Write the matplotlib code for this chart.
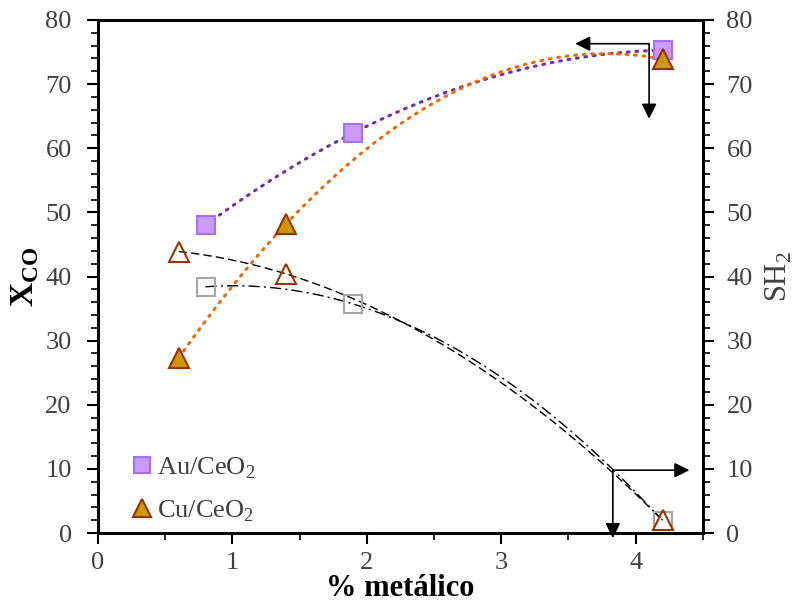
import numpy as np
import matplotlib.pyplot as plt
from matplotlib.ticker import MultipleLocator

plt.rcParams['font.family'] = ['Liberation Serif', 'DejaVu Serif']
plt.rcParams['mathtext.fontset'] = 'custom'
plt.rcParams['mathtext.rm'] = 'Liberation Serif'
plt.rcParams['mathtext.bf'] = 'Liberation Serif:bold'

# conversion X_CO (left axis)
au_x = [0.8, 1.9, 4.2]
au_xco = [48.0, 62.4, 75.3]
cu_x = [0.6, 1.4, 4.2]
cu_xco = [27.3, 48.2, 73.9]

# selectivity S_H2 (right axis)
au_sh2 = [38.4, 35.7, 1.9]
cu_sh2 = [43.9, 40.4, 2.0]

gray = '#404040'

fig = plt.figure(figsize=(7.99, 6.04), dpi=100)
ax = fig.add_axes([0.1227, 0.1175, 0.757, 0.8494])
ax2 = ax.twinx()

# quadratic trend lines
def trend(x, y):
    c = np.polyfit(x, y, 2)
    xs = np.linspace(min(x), max(x), 200)
    return xs, np.polyval(c, xs)

xs, ys = trend(au_x, au_xco)
ax.plot(xs, ys, ls=(0, (0.6, 2.2)), color='#7030a0', lw=2.2, dash_capstyle='round', zorder=2)
xs, ys = trend(cu_x, cu_xco)
ax.plot(xs, ys, ls=(0, (0.6, 2.2)), color='#e46c0a', lw=2.2, dash_capstyle='round', zorder=2)
xs, ys = trend(cu_x, cu_sh2)
ax2.plot(xs, ys, ls=(0, (6, 3)), color='black', lw=1.0, zorder=2)
xs, ys = trend(au_x, au_sh2)
ax2.plot(xs, ys, ls=(0, (8, 3, 1.5, 3)), color='black', lw=1.0, zorder=2)

ax.plot(au_x, au_xco, 's', ms=13.5, mfc='#cc99ff', mec='#a070ff', mew=1.5, zorder=3,
        label='Au/CeO$_2$')
ax.plot(cu_x, cu_xco, '^', ms=14, mfc='#cc9900', mec='#993300', mew=1.5, zorder=3,
        label='Cu/CeO$_2$')
ax2.plot(au_x, au_sh2, 's', ms=13.5, mfc='none', mec='#a6a6a6', mew=1.5, zorder=3)
ax2.plot(cu_x, cu_sh2, '^', ms=14, mfc='none', mec='#993300', mew=1.5, zorder=3)

# arrows pointing to the axis each series belongs to
akw = dict(arrowstyle='-|>,head_length=0.9,head_width=0.45', color='black', lw=1.2,
           shrinkA=0, shrinkB=0)
ax.annotate('', xy=(3.55, 76.3), xytext=(4.1, 76.3), arrowprops=akw, annotation_clip=False)
ax.annotate('', xy=(4.1, 64.6), xytext=(4.1, 76.3), arrowprops=akw, annotation_clip=False)
ax.annotate('', xy=(4.4, 9.8), xytext=(3.83, 9.8), arrowprops=akw, annotation_clip=False)
ax.annotate('', xy=(3.83, -0.8), xytext=(3.83, 9.8), arrowprops=akw, annotation_clip=False)

ax.set_xlim(0, 4.5)
ax.set_ylim(0, 80)
ax2.set_ylim(0, 80)
ax.xaxis.set_major_locator(MultipleLocator(1))
ax.xaxis.set_minor_locator(MultipleLocator(0.5))
for a in (ax, ax2):
    a.yaxis.set_major_locator(MultipleLocator(10))
    a.yaxis.set_minor_locator(MultipleLocator(2))
    for s in a.spines.values():
        s.set_linewidth(2)
    a.tick_params(which='major', length=8, width=1.5, labelsize=19, labelcolor=gray)
    a.tick_params(which='minor', length=5, width=1.2)
ax.tick_params(axis='y', pad=11)
ax.tick_params(axis='x', pad=6)
ax2.tick_params(axis='y', pad=9)

ax.set_xlabel('% metálico', fontsize=22, fontweight='bold', labelpad=0)
ax.set_ylabel(r'$\mathbf{X}_{\mathbf{CO}}$', fontsize=24, labelpad=3)
ax2.set_ylabel('SH$_2$', fontsize=22, color=gray, labelpad=8)

leg = ax.legend(loc='lower left', bbox_to_anchor=(0.012, -0.028), frameon=False, fontsize=19,
                handletextpad=0.05, labelspacing=0.65, markerscale=0.9, handlelength=1.0,
                labelcolor=gray)

fig.savefig('out.png', dpi=100)
